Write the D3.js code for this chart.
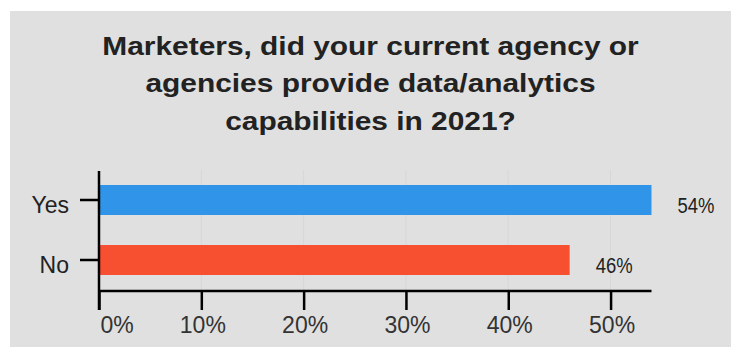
<!DOCTYPE html>
<html>
<head>
    <title>Agency data/analytics capabilities</title>
    <script src="https://d3js.org/d3.v7.min.js"></script>
    <style>
        body { margin: 0; background: #fff; }
    </style>
</head>
<body>
    <script>
        // data
        const categories = ["Yes", "No"];
        const values = [54, 46];
        const barColors = ["#3095e9", "#f65030"];
        const tickValues = [0, 10, 20, 30, 40, 50];
        const titleLines = [
            "Marketers, did your current agency or",
            "agencies provide data/analytics",
            "capabilities in 2021?"
        ];

        const W = 734, H = 347;

        const svg = d3.select("body")
          .append("svg")
            .attr("width", W)
            .attr("height", H);

        // panel background
        svg.append("rect")
            .attr("x", 10).attr("y", 11)
            .attr("width", 721).attr("height", 336)
            .attr("fill", "#e0e0e0");

        // title (font rendered a bit wider in the original)
        svg.append("text")
            .attr("transform", "translate(370.5,0) scale(1.15,1)")
            .attr("text-anchor", "middle")
            .style("font-family", "'Liberation Sans', Arial, sans-serif")
            .style("font-weight", "bold")
            .style("font-size", "26px")
            .attr("fill", "#222")
          .selectAll("tspan")
          .data(titleLines)
          .join("tspan")
            .attr("x", 0)
            .attr("y", (d, i) => 55 + i * 37.3)
            .text(d => d);

        // scales
        const x = d3.scaleLinear()
          .domain([0, d3.max(values)])
          .range([99, 651.5]);

        const y = d3.scaleBand()
          .domain(categories)
          .range([170, 290])
          .paddingInner(0.5)
          .paddingOuter(0.25);

        // faint gridlines
        svg.append("g")
          .selectAll("line")
          .data(tickValues.slice(1))
          .join("line")
            .attr("x1", d => x(d)).attr("x2", d => x(d))
            .attr("y1", 170).attr("y2", 290)
            .attr("stroke", "#d7d7d7")
            .attr("stroke-width", 1);

        // bars
        svg.append("g")
          .selectAll("rect")
          .data(values)
          .join("rect")
            .attr("x", x(0))
            .attr("y", (d, i) => y(categories[i]))
            .attr("width", d => x(d) - x(0))
            .attr("height", y.bandwidth())
            .attr("fill", (d, i) => barColors[i]);

        // value labels (condensed look)
        svg.append("g")
          .selectAll("text")
          .data(values)
          .join("text")
            .attr("transform", (d, i) =>
                `translate(${x(d) + 26},${y(categories[i]) + y.bandwidth() / 2 + 13}) scale(0.84,1)`)
            .style("font-family", "'Liberation Sans', Arial, sans-serif")
            .style("font-size", "22px")
            .attr("fill", "#222")
            .text(d => d + "%");

        // x axis
        const xAxis = svg.append("g")
            .attr("transform", "translate(0,291)")
            .call(d3.axisBottom(x).tickValues(tickValues).tickSize(19).tickPadding(4)
                .tickFormat(d => d + "%"));
        xAxis.select(".domain")
            .attr("d", `M${x(0)},0H${x(d3.max(values))}`)
            .attr("stroke", "#000").attr("stroke-width", 2.5);
        xAxis.selectAll(".tick line").attr("stroke", "#000").attr("stroke-width", 2.5);
        xAxis.selectAll(".tick text")
            .style("font-family", "'Liberation Sans', Arial, sans-serif")
            .style("font-size", "23px")
            .attr("fill", "#333")
            .attr("dy", null)
            .attr("y", 42)
            .attr("text-anchor", d => d === 0 ? "start" : "middle")
            .attr("dx", 1);

        // y axis
        const yAxis = svg.append("g")
            .attr("transform", `translate(${x(0)},0)`)
            .call(d3.axisLeft(y).tickSize(19).tickPadding(11));
        yAxis.select(".domain")
            .attr("d", "M0,171V310")
            .attr("stroke", "#000").attr("stroke-width", 2.5);
        yAxis.selectAll(".tick line").attr("stroke", "#000").attr("stroke-width", 2.5);
        yAxis.selectAll(".tick text")
            .style("font-family", "'Liberation Sans', Arial, sans-serif")
            .style("font-size", "23px")
            .attr("fill", "#222")
            .attr("dy", null)
            .attr("y", 13);
    </script>
</body>
</html>
